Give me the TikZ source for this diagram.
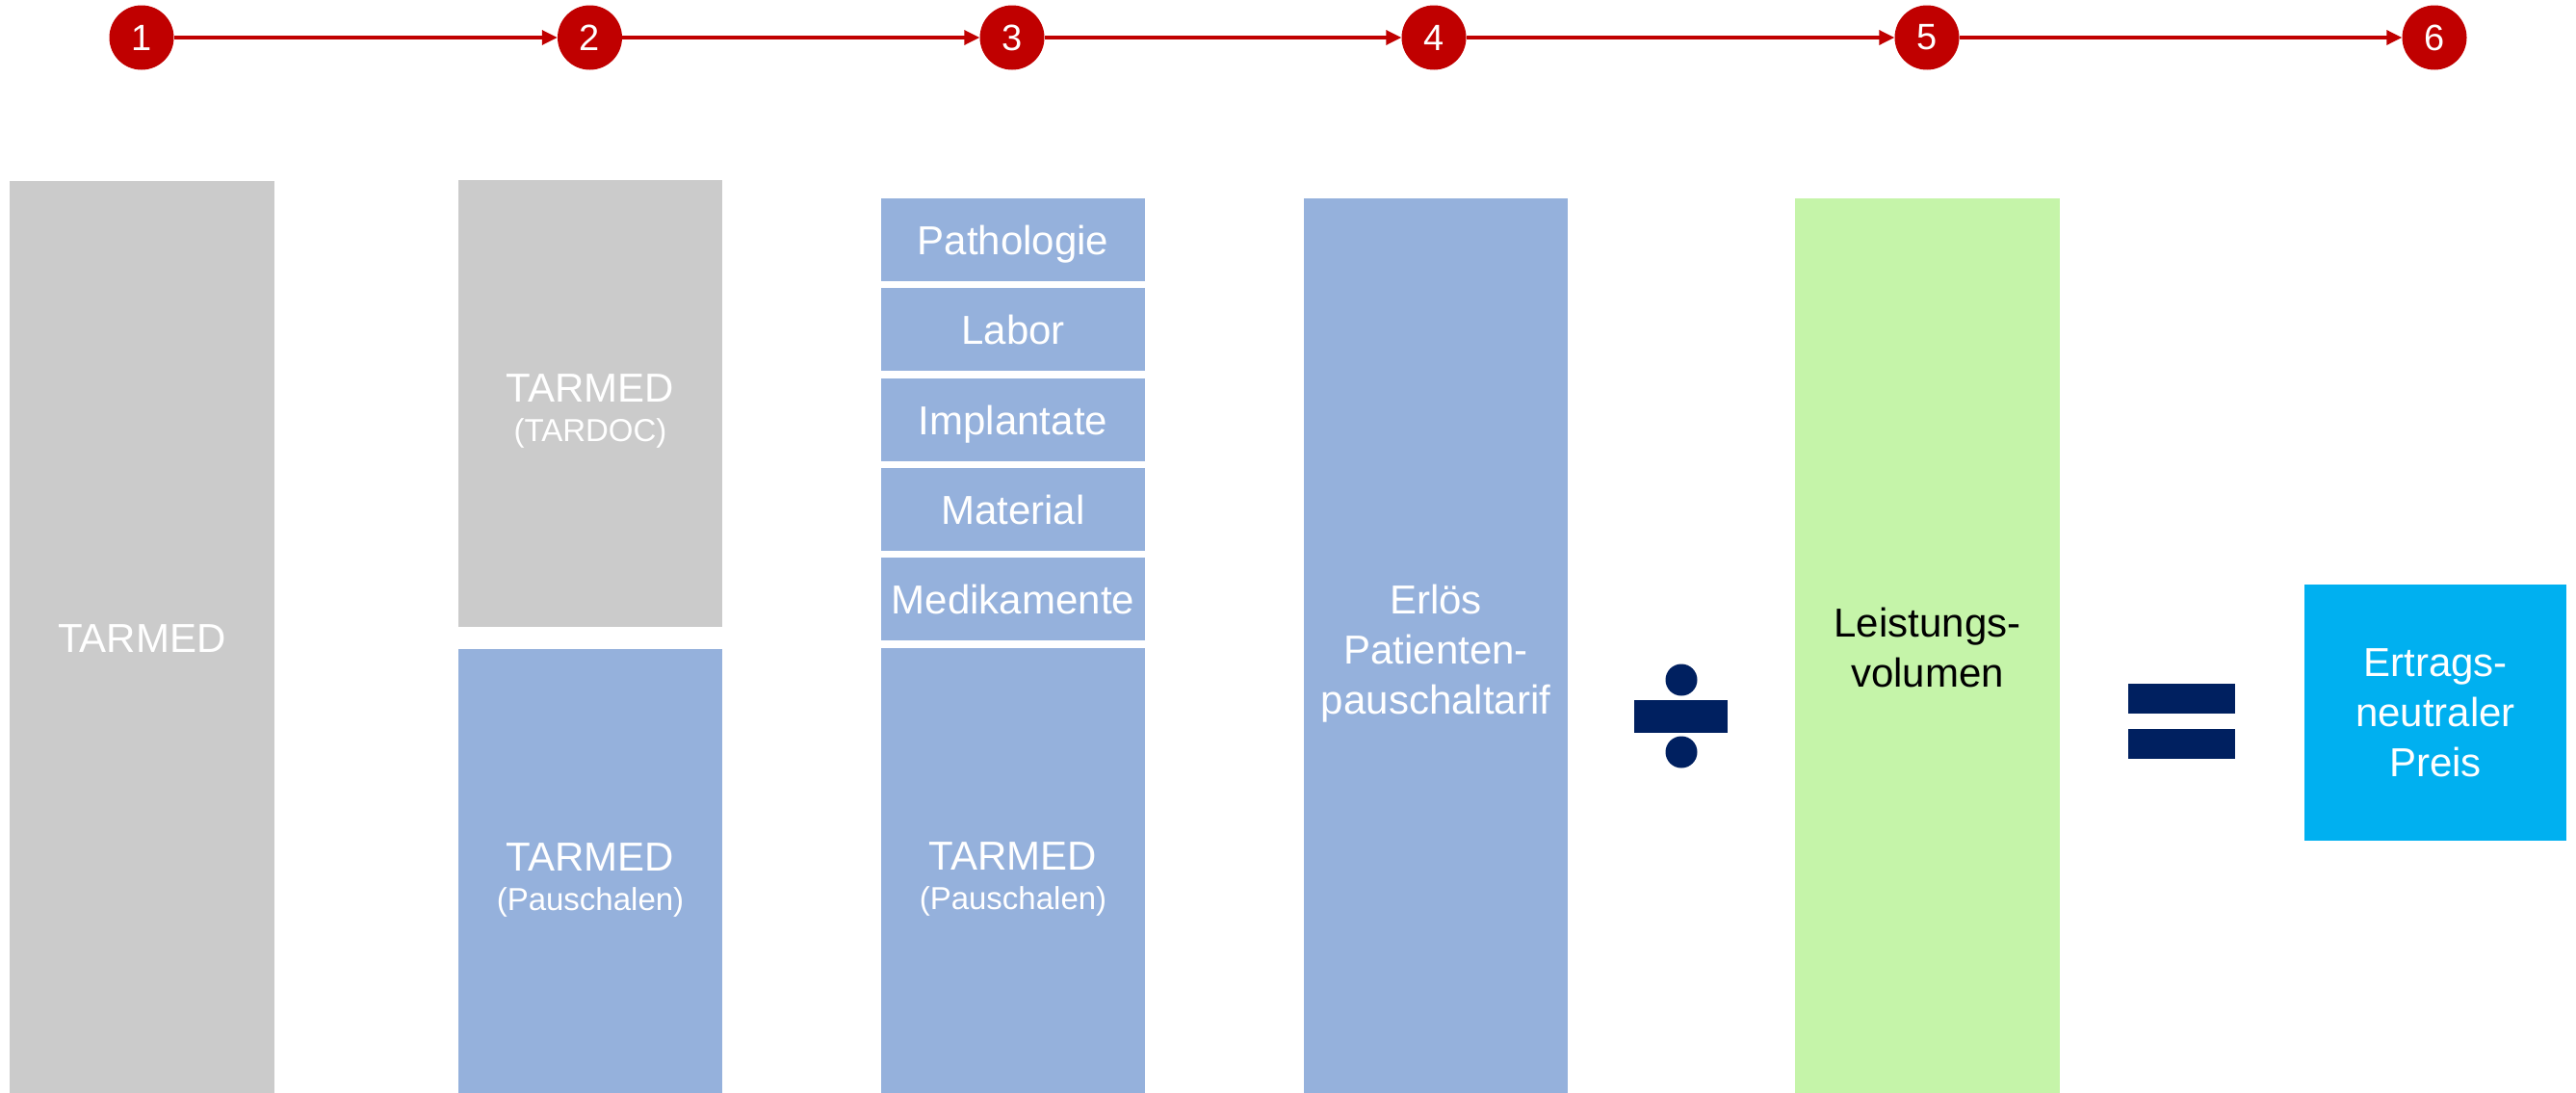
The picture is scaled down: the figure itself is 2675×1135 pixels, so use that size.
\documentclass[tikz,border=0pt]{standalone}
\usepackage{fontspec}
\setmainfont{Liberation Sans}
\usetikzlibrary{arrows.meta}
\definecolor{barGray}{HTML}{CBCBCB}
\definecolor{barBlue}{HTML}{95B1DC}
\definecolor{barGreen}{HTML}{C5F4A9}
\definecolor{barCyan}{HTML}{00B0F0}
\definecolor{stepRed}{HTML}{C00000}
\definecolor{opNavy}{HTML}{002060}
\newcommand{\lift}[1]{\rule{0pt}{#1}}
\begin{document}
\begin{tikzpicture}[x=1pt,y=-1pt,
  stepcircle/.style={circle,fill=stepRed,minimum size=67pt,inner sep=0pt,text=white,font=\fontsize{38}{46}\selectfont},
  steparrow/.style={draw=stepRed,line width=3.2pt,-{Triangle[length=16pt,width=15pt,fill=stepRed]}},
  bar/.style={rectangle,inner sep=0pt,text=white,align=center,font=\fontsize{42}{52}\selectfont},
  graybar/.style={bar,fill=barGray},
  bluebar/.style={bar,fill=barBlue},
]
\clip (0,0) rectangle (2675,1135);
\fill[white] (0,0) rectangle (2675,1135);

% step circles
\node[stepcircle] (s1) at (147,39) {1};
\node[stepcircle] (s2) at (612.5,39) {2};
\node[stepcircle] (s3) at (1051,39) {3};
\node[stepcircle] (s4) at (1489,39) {4};
\node[stepcircle] (s5) at (2001,39) {5};
\node[stepcircle] (s6) at (2528,39) {6};
\draw[steparrow] (s1) -- (s2);
\draw[steparrow] (s2) -- (s3);
\draw[steparrow] (s3) -- (s4);
\draw[steparrow] (s4) -- (s5);
\draw[steparrow] (s5) -- (s6);

% column 1
\node[graybar,minimum width=275pt,minimum height=950pt] (b1) at (147.5,663) {TARMED};

% column 2
\node[graybar,minimum width=274pt,minimum height=464pt] (b2a) at (613,419)
  {\lift{44pt}TARMED\\[-11pt]{\fontsize{33}{40}\selectfont (TARDOC)}};
\node[bluebar,minimum width=274pt,minimum height=464pt] (b2b) at (613,906)
  {\lift{44pt}TARMED\\[-11pt]{\fontsize{33}{40}\selectfont (Pauschalen)}};

% column 3
\node[bluebar,minimum width=274pt,minimum height=86pt] (b3a) at (1052,249) {\lift{40pt}Pathologie};
\node[bluebar,minimum width=274pt,minimum height=86pt] (b3b) at (1052,342) {Labor};
\node[bluebar,minimum width=274pt,minimum height=86pt] (b3c) at (1052,436) {\lift{40pt}Implantate};
\node[bluebar,minimum width=274pt,minimum height=86pt] (b3d) at (1052,529) {Material};
\node[bluebar,minimum width=274pt,minimum height=86pt] (b3e) at (1052,622) {Medikamente};
\node[bluebar,minimum width=274pt,minimum height=465pt] (b3f) at (1052,905.5)
  {\lift{44pt}TARMED\\[-11pt]{\fontsize{33}{40}\selectfont (Pauschalen)}};

% column 4
\node[bluebar,minimum width=274pt,minimum height=932pt] (b4) at (1491,672)
  {\lift{44pt}Erlös\\Patienten-\\pauschaltarif};

% divide sign
\fill[opNavy] (1746,706) circle[radius=16.5];
\fill[opNavy] (1746,781) circle[radius=16.5];
\fill[opNavy] (1697,727) rectangle (1794,761);

% column 5
\node[bar,fill=barGreen,text=black,minimum width=275pt,minimum height=932pt] (b5) at (2001.5,672)
  {Leistungs-\\volumen};

% equals sign
\fill[opNavy] (2210,710) rectangle (2321,741);
\fill[opNavy] (2210,757) rectangle (2321,788);

% result
\node[bar,fill=barCyan,minimum width=272pt,minimum height=266pt] (b6) at (2529,740)
  {Ertrags-\\neutraler\\Preis};
\end{tikzpicture}
\end{document}
